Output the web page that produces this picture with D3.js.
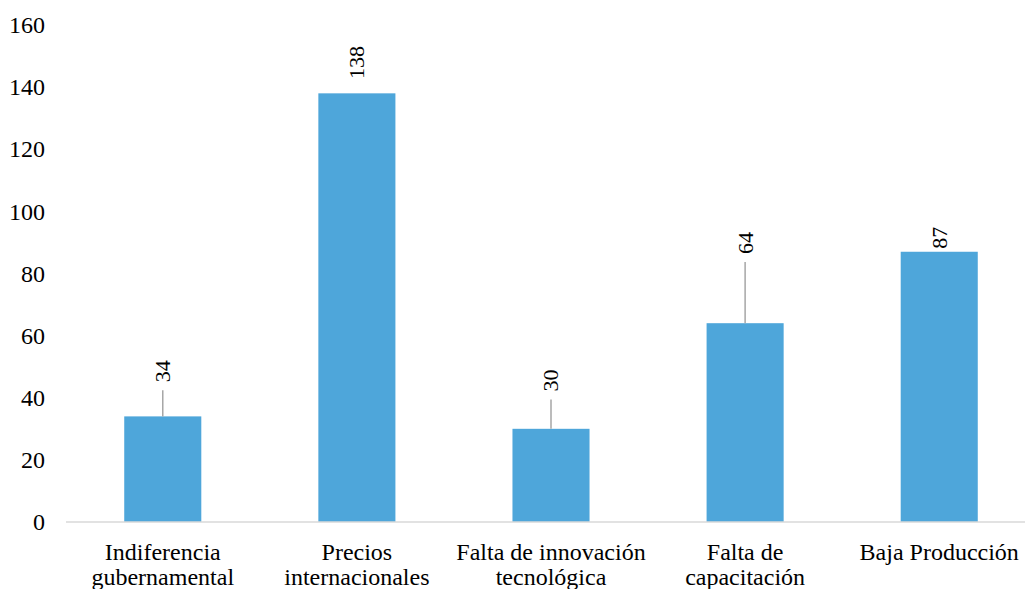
<!DOCTYPE html>
<html>
<head>
<meta charset="utf-8">
<script src="https://cdn.jsdelivr.net/npm/d3@7"></script>
<style>
  html, body { margin: 0; padding: 0; background: #fff; }
  svg { display: block; }
</style>
</head>
<body>
<svg id="chart" width="1025" height="589" font-family="Liberation Serif, Times New Roman, serif"></svg>
<script>
// ---- data ----
const categories = [
  ["Indiferencia", "gubernamental"],
  ["Precios", "internacionales"],
  ["Falta de innovación", "tecnológica"],
  ["Falta de", "capacitación"],
  ["Baja Producción"]
];
const values = [34, 138, 30, 64, 87];
// where each value label starts, in data units (labels were moved above some bars)
const labelAt = [45, 142.6, 42, 86.3, 88];
const yTicks = [0, 20, 40, 60, 80, 100, 120, 140, 160];

const FONT = "Liberation Serif, Times New Roman, serif";

// ---- layout ----
const svg = d3.select("#chart");
const margin = { left: 66, top: 25, bottom: 67 };
const plotRight = 1036;
const baseY = 589 - margin.bottom;

const x = d3.scaleBand()
  .domain(d3.range(values.length))
  .range([margin.left, plotRight])
  .paddingInner(0.603)
  .paddingOuter(0.3);

const y = d3.scaleLinear().domain([0, 160]).range([baseY, margin.top]);

// y tick labels (no axis line, no ticks)
const yAxis = d3.axisLeft(y).tickValues(yTicks).tickSize(0).tickPadding(0);
const gy = svg.append("g").attr("transform", "translate(45,0)").call(yAxis);
gy.attr("font-family", FONT).attr("font-size", 24);
gy.select(".domain").remove();
gy.selectAll("text").attr("font-family", FONT).attr("font-size", 24).attr("fill", "#000");

// bars
svg.append("g").selectAll("rect")
  .data(values)
  .join("rect")
  .attr("x", (d, i) => x(i))
  .attr("width", x.bandwidth())
  .attr("y", d => y(d))
  .attr("height", d => baseY - y(d))
  .attr("fill", "#4ea6da");

// baseline
svg.append("line")
  .attr("x1", margin.left).attr("x2", plotRight)
  .attr("y1", baseY).attr("y2", baseY)
  .attr("stroke", "#d9d9d9").attr("stroke-width", 1.5);

// leader lines
svg.append("g").selectAll("line")
  .data(values.map((v, i) => ({ v, i, l: labelAt[i] })).filter(d => y(d.v) - y(d.l) > 16))
  .join("line")
  .attr("x1", d => x(d.i) + x.bandwidth() / 2)
  .attr("x2", d => x(d.i) + x.bandwidth() / 2)
  .attr("y1", d => y(d.l) + 8)
  .attr("y2", d => y(d.v))
  .attr("stroke", "#a6a6a6").attr("stroke-width", 1.5);

// value labels, rotated
svg.append("g").selectAll("text")
  .data(values)
  .join("text")
  .attr("transform", (d, i) => `translate(${x(i) + x.bandwidth() / 2},${y(labelAt[i])}) rotate(-90)`)
  .attr("dy", "0.34em")
  .attr("text-anchor", "start")
  .attr("font-family", FONT)
  .attr("font-size", 22)
  .attr("fill", "#000")
  .text(d => d);

// category labels
const cat = svg.append("g").selectAll("text")
  .data(categories)
  .join("text")
  .attr("x", (d, i) => x(i) + x.bandwidth() / 2)
  .attr("y", 560)
  .attr("text-anchor", "middle")
  .attr("font-family", FONT)
  .attr("font-size", 24)
  .attr("fill", "#000");
cat.selectAll("tspan")
  .data(d => d)
  .join("tspan")
  .attr("x", function () { return d3.select(this.parentNode).attr("x"); })
  .attr("dy", (d, j) => j === 0 ? 0 : 25)
  .text(d => d);
</script>
</body>
</html>
